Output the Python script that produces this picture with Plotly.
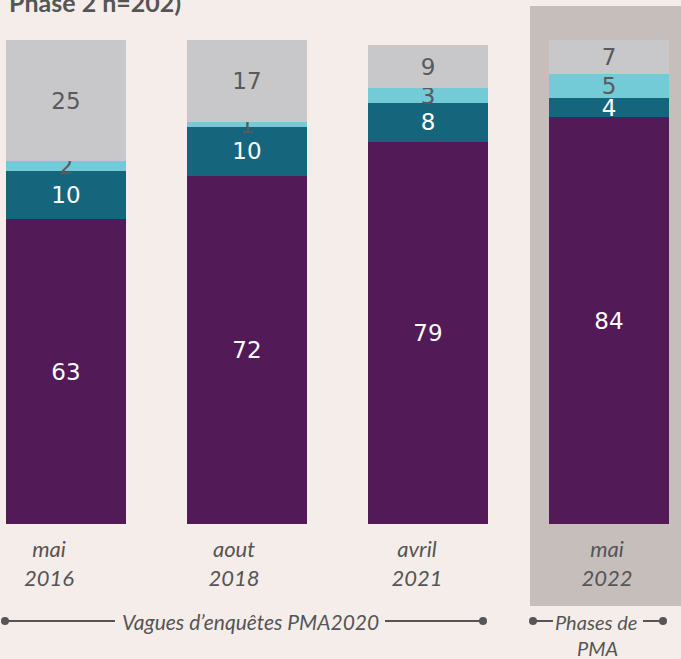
import plotly.graph_objects as go

# données (%)
vagues = ["mai<br>2016", "aout<br>2018", "avril<br>2021", "mai<br>2022"]
violet = [63, 72, 79, 84]
bleu_fonce = [10, 10, 8, 4]
bleu_clair = [2, 1, 3, 5]
gris = [25, 17, 9, 7]

W, H = 681, 659
TOP, BOTTOM = 40, 135  # marges en px
PLOT_H = H - TOP - BOTTOM
PAS = 181  # px entre deux barres
decalage_etiquettes = [-17, -13, -11, -2]  # px, étiquettes un peu à gauche


def px_x(px):
    return px / W


def px_y(py):
    return (H - BOTTOM - py) / PLOT_H


x = list(range(len(vagues)))
series = [
    ("Violet", violet, "#521a57", "white"),
    ("Bleu foncé", bleu_fonce, "#15667d", "white"),
    ("Bleu clair", bleu_clair, "#74cbd8", "#5a5a5a"),
    ("Gris", gris, "#c8c8ca", "#5a5a5a"),
]

fig = go.Figure()
for nom, vals, couleur, txt in series:
    fig.add_trace(go.Bar(
        x=x, y=vals, name=nom, width=120 / PAS,
        marker=dict(color=couleur, line=dict(width=0)),
        text=[str(v) for v in vals], textposition="inside",
        insidetextanchor="middle", textangle=0,
        textfont=dict(family="DejaVu Sans", size=23, color=txt),
        hoverinfo="skip",
    ))

shapes = []
# fond gris derrière la phase PMA
shapes.append(dict(type="rect", xref="paper", yref="paper", layer="below",
                   x0=px_x(530), x1=px_x(700), y0=px_y(606), y1=px_y(6),
                   fillcolor="#c6bebb", line=dict(width=0)))

# lignes des légendes du bas
Y_LIGNE = 621
ligne = dict(color="#555555", width=2)
for a, b in [(5, 115), (385, 483), (533, 553), (643, 663)]:
    shapes.append(dict(type="line", xref="paper", yref="paper",
                       x0=px_x(a), x1=px_x(b), y0=px_y(Y_LIGNE), y1=px_y(Y_LIGNE), line=ligne))
for c in [5, 483, 533, 663]:
    r = 4
    shapes.append(dict(type="circle", xref="paper", yref="paper",
                       x0=px_x(c - r), x1=px_x(c + r), y0=px_y(Y_LIGNE + r), y1=px_y(Y_LIGNE - r),
                       fillcolor="#555555", line=dict(width=0)))

annotations = [
    dict(text="<b>Phase 2 n=202)</b>", xref="paper", yref="paper",
         x=px_x(7), y=px_y(2), xanchor="left", yanchor="middle", showarrow=False,
         font=dict(family="Lato", size=25, color="#555555")),
    dict(text="<i>Vagues d’enquêtes PMA2020</i>", xref="paper", yref="paper",
         x=px_x(250), y=px_y(Y_LIGNE), xanchor="center", yanchor="middle", showarrow=False,
         font=dict(family="Lato", size=21, color="#555555")),
    dict(text="<i>Phases de</i>", xref="paper", yref="paper",
         x=px_x(596), y=px_y(Y_LIGNE + 1), xanchor="center", yanchor="middle", showarrow=False,
         font=dict(family="Lato", size=20, color="#555555")),
    dict(text="<i>PMA</i>", xref="paper", yref="paper",
         x=px_x(597), y=px_y(648), xanchor="center", yanchor="middle", showarrow=False,
         font=dict(family="Lato", size=20, color="#555555")),
]

fig.update_layout(
    width=W, height=H, barmode="stack", showlegend=False,
    margin=dict(l=0, r=0, t=TOP, b=BOTTOM),
    paper_bgcolor="#f5edea", plot_bgcolor="rgba(0,0,0,0)",
    uniformtext=dict(minsize=23, mode="show"),
    shapes=shapes, annotations=annotations,
    xaxis=dict(range=[-66 / PAS, (W - 66) / PAS],
               tickvals=[i + d / PAS for i, d in zip(x, decalage_etiquettes)],
               ticktext=[f"<i>{v}</i>" for v in vagues],
               tickfont=dict(family="Lato", size=22, color="#555555"),
               ticks="outside", ticklen=6, tickcolor="rgba(0,0,0,0)",
               showgrid=False, zeroline=False, showline=False, fixedrange=True),
    yaxis=dict(range=[0, 100], visible=False, fixedrange=True),
)

fig.write_html("out.html", config={"displayModeBar": False},
               post_script="document.body.style.margin='0';document.body.style.overflow='hidden';")
